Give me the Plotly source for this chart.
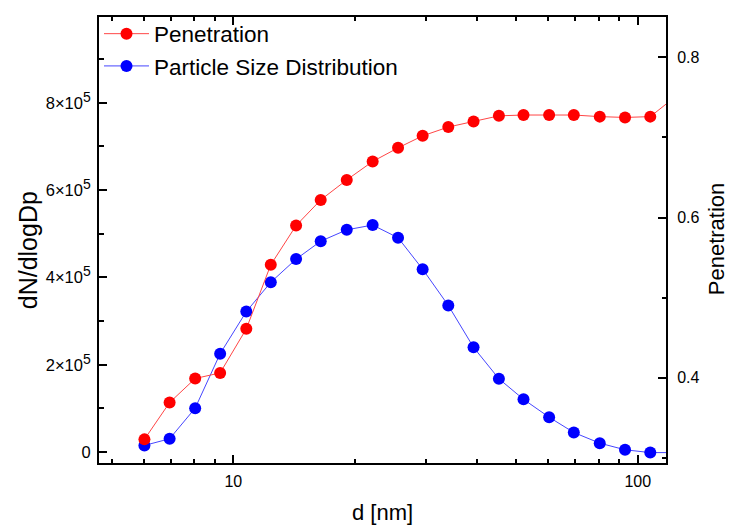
import plotly.graph_objects as go

# Mobility diameter channels [nm]
diameter = [6.03, 6.96, 8.05, 9.28, 10.77, 12.38, 14.30, 16.45, 19.08, 22.11, 25.55,
            29.39, 34.01, 39.27, 45.37, 52.19, 60.39, 69.50, 80.56, 93.03, 107.4, 124.0]

# Penetration through the sampling line (right axis)
penetration = [0.323, 0.369, 0.399, 0.406, 0.461, 0.541, 0.590, 0.622, 0.647, 0.670, 0.687,
               0.702, 0.713, 0.720, 0.727, 0.728, 0.728, 0.728, 0.726, 0.725, 0.726, 0.751]

# Number size distribution dN/dlogDp (left axis)
psd = [15400, 30700, 100800, 225500, 321800, 389000, 442000, 483000, 509000, 520000, 491000,
       419000, 336000, 240000, 168000, 121000, 80000, 45000, 20600, 5500, -1000, -1000]

left_tickvals = [0, 200000, 400000, 600000, 800000]
SUP = '<sup><span style="font-size:14px">5</span></sup>'
left_ticktext = ["0", "2×10" + SUP, "4×10" + SUP, "6×10" + SUP, "8×10" + SUP]
x_tickvals = [10, 100]
x_ticktext = ["10", "100"]
x_minor = [5, 6, 7, 8, 9, 20, 30, 40, 50, 60, 70, 80, 90]

FONT = "Liberation Sans, Arial, sans-serif"

fig = go.Figure()
fig.add_trace(go.Scatter(
    x=diameter, y=penetration, name="Penetration", yaxis="y2",
    mode="lines+markers",
    line=dict(color="rgb(255,70,70)", width=1),
    marker=dict(color="rgb(255,0,0)", size=12),
))
fig.add_trace(go.Scatter(
    x=diameter, y=psd, name="Particle Size Distribution", yaxis="y",
    mode="lines+markers",
    line=dict(color="rgb(70,70,255)", width=1),
    marker=dict(color="rgb(0,0,255)", size=12),
))

axis_common = dict(
    showgrid=False, zeroline=False, showline=True, linecolor="black", linewidth=2,
    ticks="inside", ticklen=8, tickwidth=1.5, tickcolor="black",
)
tick_font = dict(family=FONT, size=16, color="black")

fig.update_layout(
    width=729, height=525,
    margin=dict(l=99, r=63, t=17, b=62),
    paper_bgcolor="white", plot_bgcolor="white",
    font=dict(family=FONT, color="black"),
    showlegend=True,
    legend=dict(x=0, y=1.01, xanchor="left", yanchor="top", bgcolor="rgba(0,0,0,0)",
                font=dict(family=FONT, size=22.5, color="black"), itemwidth=45,
                tracegroupgap=0),
    xaxis=dict(
        type="log", range=[0.668, 2.0699], mirror="ticks",
        tickmode="array", tickvals=x_tickvals, ticktext=x_ticktext,
        ticklabelstandoff=3, tickfont=tick_font,
        minor=dict(tickmode="array", tickvals=x_minor, ticks="inside", ticklen=4,
                   tickwidth=1.5, tickcolor="black"),
        **axis_common,
    ),
    yaxis=dict(
        range=[-24800, 996300],
        tickmode="array", tickvals=left_tickvals, ticktext=left_ticktext,
        ticklabelstandoff=3, tickfont=dict(family=FONT, size=16.5, color="black"),
        minor=dict(dtick=100000, tick0=0, ticks="inside", ticklen=5,
                   tickwidth=1.5, tickcolor="black"),
        **axis_common,
    ),
    yaxis2=dict(
        overlaying="y", side="right", anchor="x",
        range=[0.2935, 0.8504], dtick=0.2, tick0=0, tickformat=".1f",
        ticklabelstandoff=6, tickfont=tick_font,
        minor=dict(dtick=0.1, tick0=0, ticks="inside", ticklen=4,
                   tickwidth=1.5, tickcolor="black"),
        **axis_common,
    ),
    annotations=[
        dict(text="d [nm]", xref="paper", yref="paper", x=0.5, y=-0.111,
             xanchor="center", yanchor="middle", showarrow=False,
             font=dict(family=FONT, size=22, color="black")),
        dict(text="dN/dlogDp", xref="paper", yref="paper", x=-0.1252, y=0.477,
             xanchor="center", yanchor="middle", showarrow=False, textangle=-90,
             font=dict(family=FONT, size=25, color="black")),
        dict(text="Penetration", xref="paper", yref="paper", x=1.0882, y=0.5017,
             xanchor="center", yanchor="middle", showarrow=False, textangle=-90,
             font=dict(family=FONT, size=22, color="black")),
    ],
)

fig.write_html("out.html")
